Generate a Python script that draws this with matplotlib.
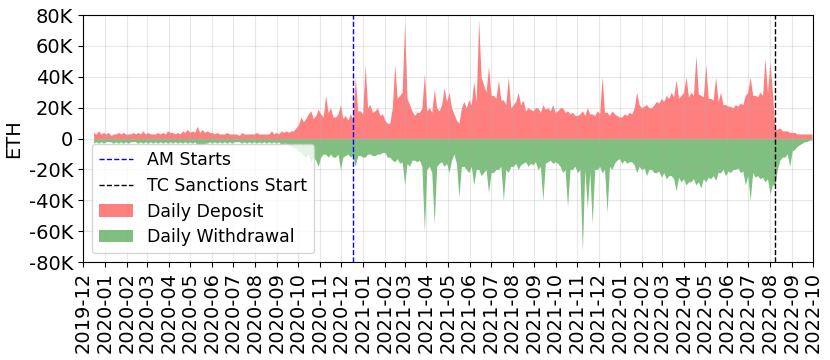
import matplotlib

matplotlib.use("Agg")

import matplotlib.dates as mdates
import matplotlib.pyplot as plt
import pandas as pd
from matplotlib.ticker import FuncFormatter

# half-weekly readings, in thousand ETH, starting at first_day
first_day = "2019-12-16"

deposit_k = [
    # 2019-12 .. 2020-05
    4, 3, 5, 3, 4, 3, 4, 2, 3, 3, 4, 3, 4, 3, 3, 3, 4, 3, 4, 3, 5, 3, 4, 3,
    3, 3, 4, 3, 4, 3, 5, 4, 4, 3, 4, 3, 5, 4, 6, 4, 5, 4, 8, 4, 6, 4, 5, 4,
    # 2020-06 .. 2020-11
    4, 3, 4, 3, 3, 3, 4, 3, 3, 3, 3, 2, 4, 3, 3, 3, 3, 3, 4, 3, 3, 3, 3, 3,
    5, 3, 4, 3, 5, 4, 5, 4, 5, 5, 7, 9, 14, 11, 13, 16, 18, 13, 15, 19, 16, 14, 28, 17,
    # 2020-11 .. 2021-05
    20, 14, 14, 16, 22, 13, 15, 12, 16, 13, 40, 18, 18, 16, 48, 20, 22, 17, 18, 20, 15, 16, 12, 10, 10, 20,
    48, 26, 28, 30, 75, 26, 22, 18, 15, 17, 17, 20, 42, 18, 20, 17, 32, 20, 18, 22, 33, 24, 30, 20,
    # 2021-05 .. 2021-10
    16, 12, 10, 20, 24, 20, 25, 22, 37, 24, 77, 40, 35, 30, 47, 28, 28, 26, 38, 25, 25, 22, 40, 20,
    22, 24, 30, 22, 25, 18, 20, 19, 18, 20, 20, 17, 22, 19, 20, 18, 22, 17, 18, 20, 20, 17, 18, 16,
    # 2021-10 .. 2022-04
    17, 15, 15, 16, 18, 15, 20, 16, 16, 15, 18, 16, 40, 17, 17, 15, 18, 16, 15, 14, 14, 16, 15, 17,
    16, 20, 30, 22, 20, 21, 22, 20, 20, 22, 24, 23, 26, 24, 28, 26, 30, 27, 38, 26, 28, 30, 40, 27,
    # 2022-04 .. 2022-09
    30, 28, 54, 29, 28, 27, 48, 26, 26, 25, 40, 24, 30, 22, 22, 21, 21, 20, 22, 21, 23, 22, 28, 30, 40, 28,
    28, 27, 30, 28, 52, 30, 50, 30, 6, 6, 7, 5, 5, 5, 4, 4, 4, 3, 3, 3, 3, 3, 3, 3,
]

withdraw_k = [
    # 2019-12 .. 2020-05
    -3, -2, -3, -2, -3, -2, -2, -2, -3, -2, -3, -2, -3, -2, -3, -2, -2, -2, -3, -2, -3, -2, -3, -2,
    -3, -2, -3, -2, -3, -2, -3, -2, -3, -2, -3, -2, -3, -2, -3, -2, -3, -2, -4, -3, -4, -3, -3, -2,
    # 2020-06 .. 2020-11
    -3, -2, -3, -2, -3, -2, -3, -2, -3, -2, -2, -2, -3, -2, -3, -2, -3, -2, -3, -2, -3, -2, -3, -2,
    -3, -2, -3, -2, -4, -3, -3, -4, -5, -6, -6, -8, -9, -11, -12, -10, -15, -12, -14, -18, -12, -10, -10, -12,
    # 2020-11 .. 2021-05
    -10, -12, -12, -10, -20, -12, -11, -10, -12, -11, -18, -11, -11, -12, -12, -10, -10, -11, -11, -10,
    -10, -9, -9, -12, -12, -14, -15, -13, -16, -15, -30, -16, -18, -14, -14, -15, -14, -18, -60, -20,
    -18, -22, -55, -18, -16, -15, -18, -16, -22, -14,
    # 2021-05 .. 2021-10
    -10, -16, -38, -18, -18, -20, -22, -18, -30, -20, -20, -24, -22, -20, -35, -22, -22, -20, -20, -18,
    -40, -20, -22, -18, -18, -16, -20, -17, -16, -15, -18, -16, -17, -15, -20, -18, -40, -16, -15, -14,
    -16, -15, -16, -18, -22, -20, -44, -20,
    # 2021-10 .. 2022-04
    -20, -18, -22, -20, -73, -20, -45, -22, -55, -20, -20, -18, -22, -20, -48, -18, -20, -16, -14, -13,
    -16, -14, -16, -15, -15, -17, -22, -18, -20, -19, -24, -20, -20, -22, -22, -21, -25, -22, -26, -24,
    -24, -26, -34, -25, -28, -26, -30, -28,
    # 2022-04 .. 2022-09
    -28, -26, -30, -28, -32, -26, -28, -25, -26, -24, -27, -22, -22, -20, -24, -21, -22, -20, -20, -19,
    -22, -21, -30, -24, -40, -22, -25, -24, -26, -25, -28, -26, -36, -30, -30, -20, -14, -12, -12, -10,
    -18, -8, -7, -5, -4, -3, -2, -2, -1, -1,
]

am_start = "2020-12-18"
tc_sanctions = "2022-08-08"

dates = pd.date_range(first_day, periods=len(deposit_k), freq="84h")
deposit = [v * 1000 for v in deposit_k]
withdraw = [v * 1000 for v in withdraw_k]

fig, ax = plt.subplots(figsize=(8.3, 3.6), dpi=100)
fig.subplots_adjust(left=0.1, right=0.9795, top=0.958, bottom=0.272)

ax.axvline(pd.Timestamp(am_start), color="blue", linestyle="--", linewidth=1, label="AM Starts")
ax.axvline(pd.Timestamp(tc_sanctions), color="black", linestyle="--", linewidth=1,
           label="TC Sanctions Start")
ax.fill_between(dates, 0, deposit, color="red", alpha=0.5, linewidth=0, label="Daily Deposit")
ax.fill_between(dates, 0, withdraw, color="green", alpha=0.5, linewidth=0, label="Daily Withdrawal")

ax.set_xlim(pd.Timestamp("2019-12-01"), pd.Timestamp("2022-10-01"))
ax.set_ylim(-80000, 80000)
ax.set_yticks(range(-80000, 80001, 20000))
ax.yaxis.set_major_formatter(FuncFormatter(lambda v, p: "0" if v == 0 else f"{v / 1000:.0f}K"))
ax.xaxis.set_major_locator(mdates.MonthLocator())
ax.xaxis.set_major_formatter(mdates.DateFormatter("%Y-%m"))
ax.tick_params(axis="both", labelsize=14)
ax.tick_params(axis="x", labelrotation=90)
ax.set_ylabel("ETH", fontsize=14)
ax.grid(True, alpha=0.3)
ax.legend(loc="lower left", fontsize=12.5, labelspacing=0.45)

fig.savefig("out.png", dpi=100)
